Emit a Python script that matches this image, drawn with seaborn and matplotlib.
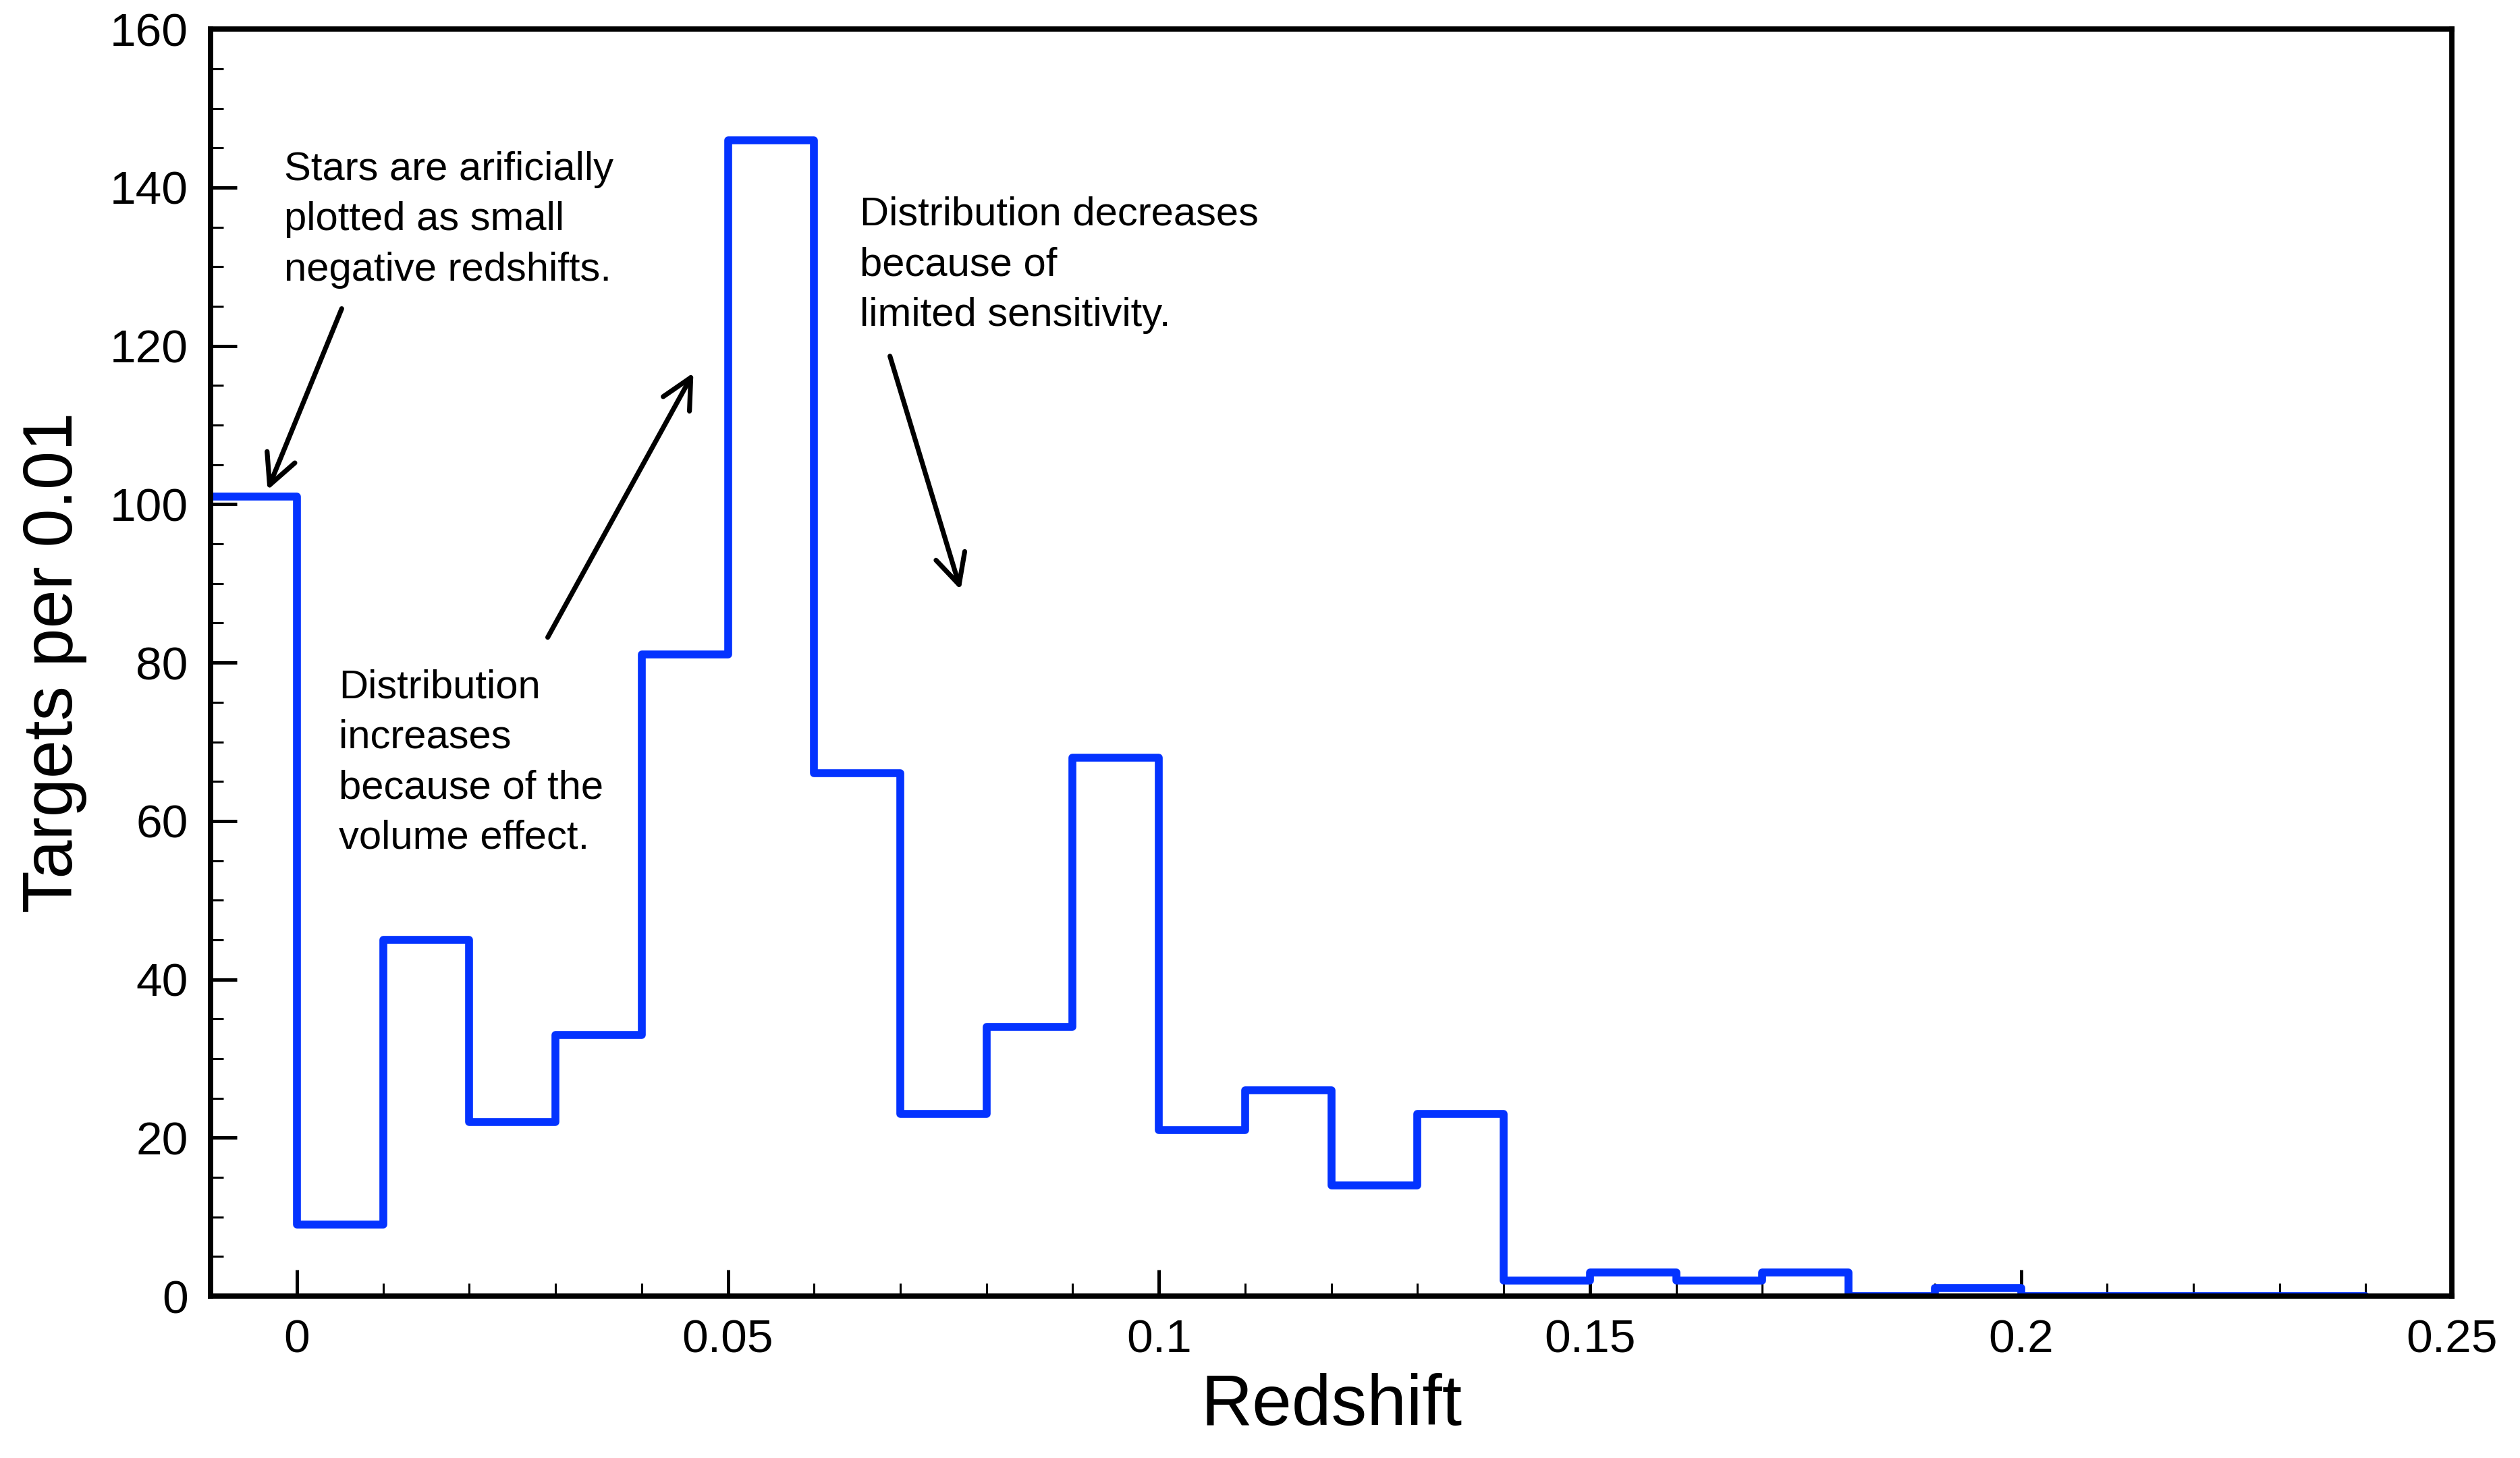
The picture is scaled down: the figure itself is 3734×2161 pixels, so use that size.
import numpy as np
import pandas as pd
import matplotlib
matplotlib.use("Agg")
import matplotlib.pyplot as plt
import seaborn as sns
from matplotlib.ticker import MultipleLocator

# histogram bins (width 0.01) and counts
bin_left = [-0.01, 0.00, 0.01, 0.02, 0.03, 0.04, 0.05, 0.06, 0.07, 0.08,
            0.09, 0.10, 0.11, 0.12, 0.13, 0.14, 0.15, 0.16, 0.17, 0.18,
            0.19, 0.20, 0.21, 0.22, 0.23]
counts = [101, 9, 45, 22, 33, 81, 146, 66, 23, 34,
          68, 21, 26, 14, 23, 2, 3, 2, 3, 0,
          1, 0, 0, 0, 0]
bin_width = 0.01

x_ticks = [0, 0.05, 0.1, 0.15, 0.2, 0.25]
x_ticklabels = ["0", "0.05", "0.1", "0.15", "0.2", "0.25"]
y_ticks = [0, 20, 40, 60, 80, 100, 120, 140, 160]

df = pd.DataFrame({"z": np.array(bin_left) + bin_width / 2, "n": counts})
edges = [round(b, 3) for b in bin_left] + [round(bin_left[-1] + bin_width, 3)]

sns.set_style("white")
plt.rcParams["font.family"] = ["Liberation Sans", "DejaVu Sans"]
plt.rcParams["text.color"] = "black"
plt.rcParams["axes.labelcolor"] = "black"

fig, ax = plt.subplots(figsize=(18.67, 10.805), dpi=200)
fig.subplots_adjust(left=0.0836, right=0.973, top=0.980, bottom=0.111)

sns.histplot(data=df, x="z", weights="n", bins=edges, element="step",
             fill=False, color="#0433ff", linewidth=4.2, ax=ax)
for ln in ax.lines:
    ln.set_solid_joinstyle("round")
    ln.set_solid_capstyle("round")

ax.set_xlim(-0.01, 0.25)
ax.set_ylim(0, 160)
ax.set_xticks(x_ticks)
ax.set_xticklabels(x_ticklabels)
ax.set_yticks(y_ticks)
ax.xaxis.set_minor_locator(MultipleLocator(0.01))
ax.yaxis.set_minor_locator(MultipleLocator(5))
ax.tick_params(which="major", direction="in", length=14, width=1.8,
               labelsize=25, pad=12, color="black", labelcolor="black")
ax.tick_params(which="minor", direction="in", length=7, width=1.1, color="black")
ax.tick_params(top=False, right=False, bottom=True, left=True, which="both")
for s in ax.spines.values():
    s.set_linewidth(2.8)
    s.set_color("black")

ax.set_xlabel("Redshift", fontsize=38, labelpad=6, color="black")
ax.set_ylabel("Targets per 0.01", fontsize=37, labelpad=12, color="black")

txt_kw = dict(fontsize=21.5, va="top", ha="left", linespacing=1.45, color="black")
ax.text(-0.0015, 144.6, "Stars are arificially\nplotted as small\nnegative redshifts.", **txt_kw)
ax.text(0.0049, 79.2, "Distribution\nincreases\nbecause of the\nvolume effect.", **txt_kw)
ax.text(0.0653, 138.9, "Distribution decreases\nbecause of\nlimited sensitivity.", **txt_kw)

arr = dict(arrowstyle="->", lw=2.6, color="black", mutation_scale=40,
           shrinkA=0, shrinkB=0)
ax.annotate("", xy=(-0.0034, 101.8), xytext=(0.0052, 124.7), arrowprops=arr)
ax.annotate("", xy=(0.0460, 116.6), xytext=(0.0291, 83.2), arrowprops=arr)
ax.annotate("", xy=(0.0770, 89.2), xytext=(0.0688, 118.7), arrowprops=arr)

fig.savefig("out.png", dpi=200)
